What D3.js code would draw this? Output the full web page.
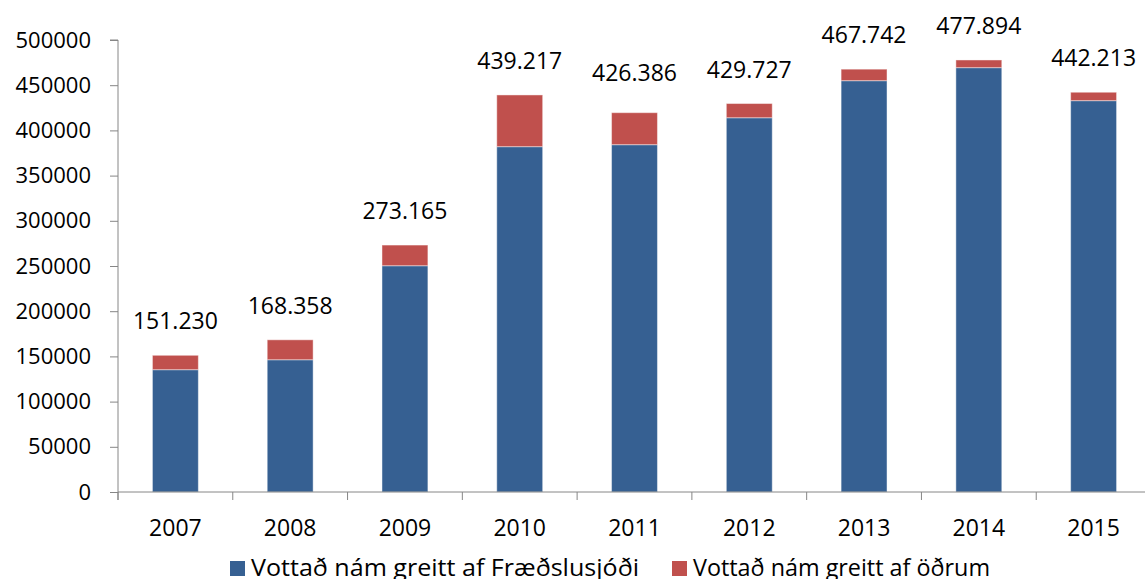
<!DOCTYPE html>
<html lang="is">
<head>
<meta charset="utf-8">
<title>Vottað nám</title>
<script src="https://d3js.org/d3.v7.min.js"></script>
<style>
  body { margin: 0; background: #fff; }
  svg { display: block; font-family: "Open Sans", sans-serif; }
  .axis path, .axis line { stroke: #868686; }
</style>
</head>
<body>
<div id="chart"></div>
<script>
// data
var years = ["2007", "2008", "2009", "2010", "2011", "2012", "2013", "2014", "2015"];
var fraedslusjodur = [135300, 146300, 250300, 382000, 384200, 414000, 455000, 469400, 432900];
var odrum = [15930, 22058, 22865, 57217, 35400, 15727, 12742, 8494, 9313];
var totalLabels = ["151.230", "168.358", "273.165", "439.217", "426.386", "429.727", "467.742", "477.894", "442.213"];
var totals = [151230, 168358, 273165, 439217, 426386, 429727, 467742, 477894, 442213];
var seriesNames = ["Vottað nám greitt af Fræðslusjóði", "Vottað nám greitt af öðrum"];
var colors = ["#366092", "#c0504d"];

var w = 1145, h = 579;
var mLeft = 118, mRight = 1151, mTop = 40, mBottom = 492;

var svg = d3.select("#chart").append("svg")
  .attr("width", w)
  .attr("height", h);

var x = d3.scaleBand().domain(years).range([mLeft, mRight]).padding(0);
var y = d3.scaleLinear().domain([0, 500000]).range([mBottom, mTop]);
var barW = x.bandwidth() * 0.4;

// stacked rows
var rows = years.map(function(yr, i) {
  return { year: yr, a: fraedslusjodur[i], b: odrum[i] };
});
var stack = d3.stack().keys(["a", "b"])(rows);

// y axis
var yAxis = d3.axisLeft(y)
  .tickValues(d3.range(0, 500001, 50000))
  .tickFormat(d3.format("d"))
  .tickSize(8)
  .tickPadding(19);

svg.append("g")
  .attr("class", "axis")
  .attr("transform", "translate(" + mLeft + ",0)")
  .call(yAxis)
  .call(function(g) {
    g.select(".domain").attr("d", "M-8," + mTop + "H0V" + (mBottom + 8));
    g.selectAll("text").attr("font-size", "22px").attr("fill", "#000")
      .attr("font-family", "Open Sans, sans-serif");
  });

// bars
svg.selectAll("g.series")
  .data(stack)
  .enter().append("g")
  .attr("class", "series")
  .attr("fill", function(d, i) { return colors[i]; })
  .selectAll("rect")
  .data(function(d) { return d; })
  .enter().append("rect")
  .attr("x", function(d) { return x(d.data.year) + (x.bandwidth() - barW) / 2; })
  .attr("y", function(d) { return y(d[1]); })
  .attr("width", barW)
  .attr("height", function(d) { return y(d[0]) - y(d[1]); })
  .attr("stroke", "rgba(255,255,255,0.45)")
  .attr("stroke-width", 1);

// x axis
var xg = svg.append("g").attr("class", "axis");
xg.append("line")
  .attr("x1", mLeft).attr("x2", w)
  .attr("y1", mBottom).attr("y2", mBottom);
xg.selectAll("line.tick")
  .data(years.concat(["end"]))
  .enter().append("line")
  .attr("class", "tick")
  .attr("x1", function(d) { return d === "end" ? mRight : x(d); })
  .attr("x2", function(d) { return d === "end" ? mRight : x(d); })
  .attr("y1", mBottom).attr("y2", mBottom + 8);

svg.selectAll("text.year")
  .data(years)
  .enter().append("text")
  .attr("class", "year")
  .attr("x", function(d) { return x(d) + x.bandwidth() / 2; })
  .attr("y", 536)
  .attr("text-anchor", "middle")
  .attr("font-size", "23px")
  .text(function(d) { return d; });

// total labels
svg.selectAll("text.total")
  .data(totals)
  .enter().append("text")
  .attr("class", "total")
  .attr("x", function(d, i) { return x(years[i]) + x.bandwidth() / 2; })
  .attr("y", function(d) { return y(d) - 26; })
  .attr("text-anchor", "middle")
  .attr("font-size", "23px")
  .text(function(d, i) { return totalLabels[i]; });

// legend
var legendX = [230, 672];
var legendW = [388, 297];
var lg = svg.selectAll("g.legend")
  .data(seriesNames)
  .enter().append("g")
  .attr("class", "legend")
  .attr("transform", function(d, i) { return "translate(" + legendX[i] + ",561)"; });
lg.append("rect")
  .attr("width", 15).attr("height", 15)
  .attr("fill", function(d, i) { return colors[i]; });
lg.append("text")
  .attr("x", 21).attr("y", 15)
  .attr("font-size", "23px")
  .attr("textLength", function(d, i) { return legendW[i]; })
  .attr("lengthAdjust", "spacingAndGlyphs")
  .text(function(d) { return d; });
</script>
</body>
</html>
